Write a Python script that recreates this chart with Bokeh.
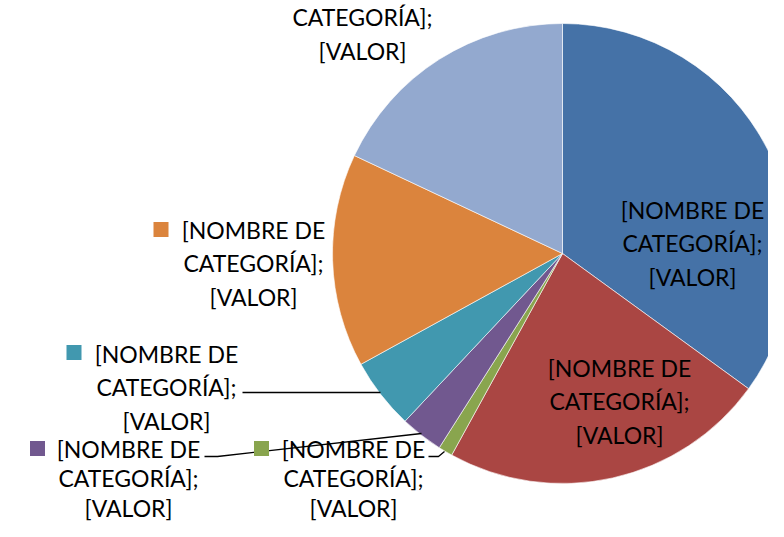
import numpy as np
from bokeh.plotting import figure
from bokeh.models import Range1d
from bokeh.core.properties import value
from bokeh.embed import file_html
from bokeh.resources import INLINE

# ---- data ----
categories = ["Cat1", "Cat2", "Cat3", "Cat4", "Cat5", "Cat6", "Cat7"]
values = [35, 23, 1, 3, 5, 15, 18]
colors = ["#4572A7", "#AA4643", "#89A54E", "#71588F", "#4198AF", "#DB843D", "#93A9CF"]
label_text = "[NOMBRE DE\nCATEGORÍA];\n[VALOR]"

# ---- layout (picture pixel coords; y converted below) ----
H = 537
def Y(py):
    return H - py

cx, cy, R = 562, 253, 230
# labels: (x, y of block centre, line height)
label_pos = [(692, 243, 1.2), (619, 401, 1.2), (353, 478, 1.05), (128, 478, 1.05),
             (166, 387, 1.2), (253, 263, 1.2), (362, 17, 1.2)]
legend_sq = {2: (261, 448), 3: (37, 448), 4: (73.5, 352), 5: (160.5, 229)}
leaders = [
    [(242, 392), (380, 392)],
    [(204, 456), (217, 456), (421, 433)],
    [(428, 456), (438, 456), (444, 451)],
]

p = figure(width=768, height=521, output_backend="svg", toolbar_location=None,
           x_range=Range1d(0, 768), y_range=Range1d(16, 537), min_border=0)
p.axis.visible = False
p.grid.visible = False
p.outline_line_color = None
p.background_fill_color = "white"

vals = np.array(values, dtype=float)
frac = vals / vals.sum()
cum = np.concatenate([[0], np.cumsum(frac)])
starts = np.pi / 2 - cum[:-1] * 2 * np.pi
ends = np.pi / 2 - cum[1:] * 2 * np.pi

p.wedge(x=cx, y=Y(cy), radius=R, start_angle=list(starts), end_angle=list(ends),
        direction="clock", fill_color=colors, line_color="white", line_width=0.6)

for path in leaders:
    p.line([a for a, b in path], [Y(b) for a, b in path], line_color="black", line_width=1.3)

for i, (sx, sy) in legend_sq.items():
    p.scatter([sx], [Y(sy)], marker="square", size=15, fill_color=colors[i], line_color=None)

for (lx, ly, lh) in label_pos:
    p.text(x=[lx], y=[Y(ly)], text=[label_text], text_align="center", text_baseline="middle",
           text_font=value("Lato"), text_font_size="23px", text_line_height=lh,
           text_color="black")

open("out.html", "w").write(file_html(p, INLINE))
